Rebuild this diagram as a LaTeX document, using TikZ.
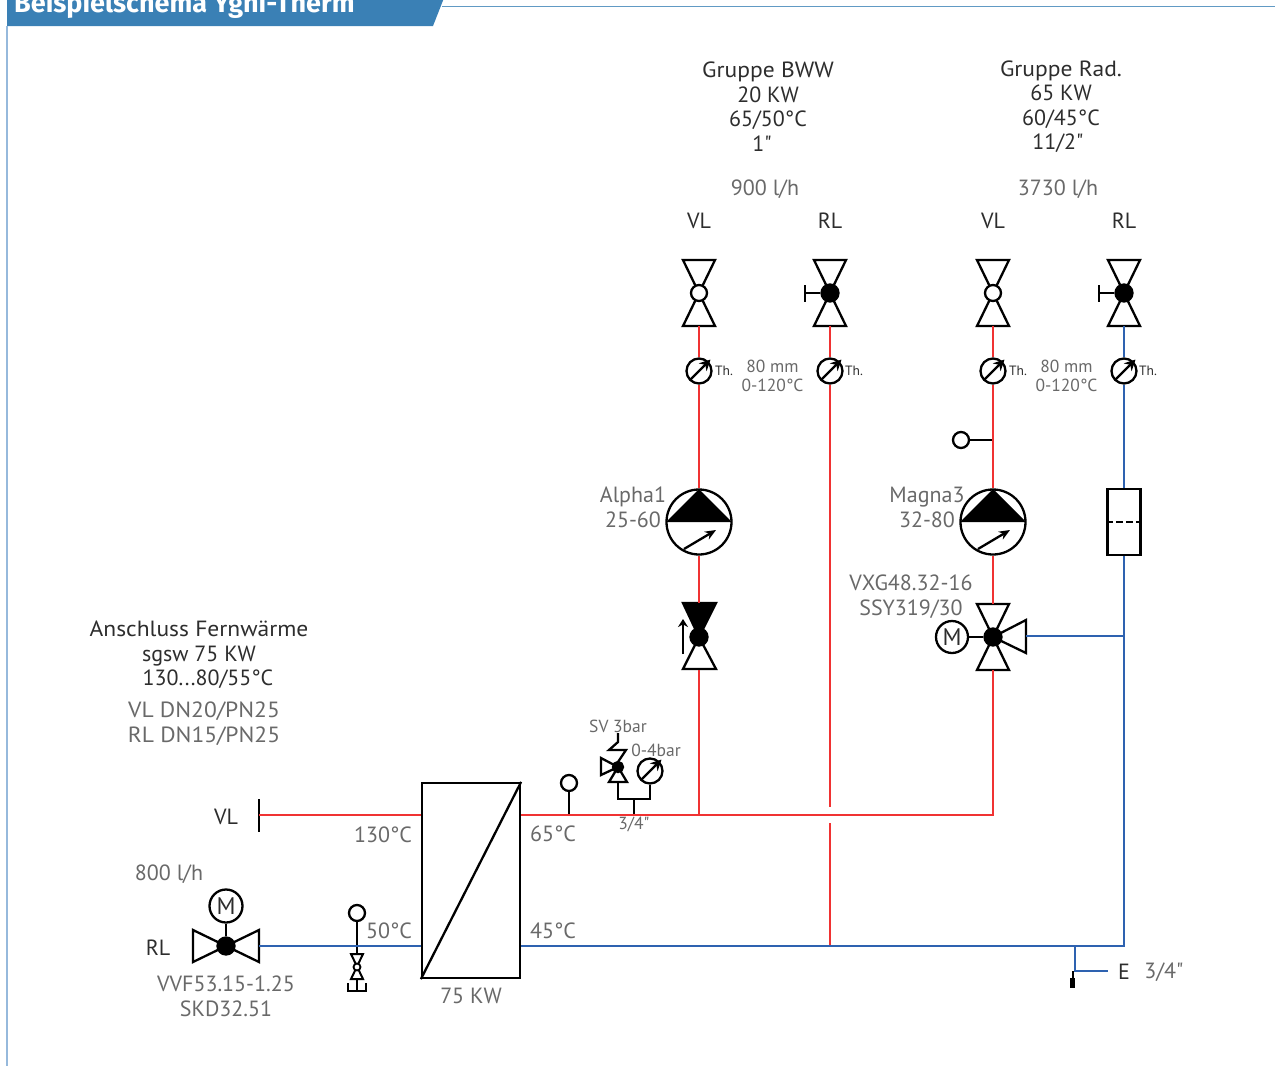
\documentclass[tikz,border=0pt]{standalone}
\usepackage{fontspec}
\newfontfamily\labelfont{PT Sans}
\newfontfamily\widefont[FakeStretch=1.07]{PT Sans}
\newfontfamily\headfont{Fira Sans}
\usetikzlibrary{arrows.meta, calc}
\definecolor{headcolor}{RGB}{58, 128, 181}
\definecolor{framecolor}{RGB}{150, 185, 220}
\definecolor{hotcolor}{RGB}{240, 50, 50}
\definecolor{coldcolor}{RGB}{46, 98, 176}
\definecolor{labelcolor}{RGB}{105, 105, 105}
\definecolor{namecolor}{RGB}{45, 45, 45}
\tikzstyle{symbol} = [draw=black, line width=2.3pt, line join=miter]
\tikzstyle{hotpipe} = [draw=hotcolor, line width=2.5pt]
\tikzstyle{coldpipe} = [draw=coldcolor, line width=2.8pt]
\tikzstyle{stem} = [draw=black, line width=2.3pt]
\tikzstyle{namelabel} = [text=namecolor, font=\labelfont\fontsize{22}{24.5}\selectfont, align=center, inner sep=0pt, yshift=-1pt]
\tikzstyle{graylabel} = [text=labelcolor, font=\labelfont\fontsize{22}{24.5}\selectfont, align=center, inner sep=0pt, yshift=-1pt]
\tikzstyle{smalllabel} = [text=labelcolor, font=\labelfont\fontsize{17.5}{18.5}\selectfont, align=center, inner sep=0pt]
\tikzstyle{thlabel} = [text=namecolor, font=\labelfont\fontsize{13.5}{14}\selectfont, inner sep=0pt]
\tikzstyle{dot} = [circle, draw=black, line width=2.3pt, inner sep=0pt]
\tikzstyle{motordot} = [dot, font=\labelfont\fontsize{24}{24}\selectfont, text=namecolor]
\tikzset{
  pics/valve/.style={code={
    \draw[symbol] (-16,-33) -- (16,-33) -- (-16,33) -- (16,33) -- cycle;
    \coordinate (-top) at (0,-33);
    \coordinate (-bot) at (0,33);
  }},
  pics/gauge/.style={code={
    \node[dot, fill=white, minimum size=25pt] (-c) at (0,0) {};
    \draw[line width=2.3pt, -{Stealth[length=11pt,width=11pt]}] (-9,9) -- (11.5,-11.5);
  }},
  pics/pump/.style={code={
    \node[dot, fill=white, minimum size=65pt] (-c) at (0,0) {};
    \fill[black] (-33,0) -- (0,-33) -- (33,0) -- cycle;
    \draw[line width=2.3pt, -{Stealth[length=11pt,width=9pt]}] (-15,27) -- (17,8);
  }},
  pics/sensor/.style={code={
    \node[dot, fill=white, minimum size=16pt] (-c) at (0,0) {};
  }}
}

\begin{document}
\begin{tikzpicture}[x=1pt, y=-1pt]
\useasboundingbox (0,0) rectangle (1275,1066);

% Title bar
\fill[headcolor] (7,-2) -- (444,-2) -- (433,26) -- (7,26) -- cycle;
\draw[framecolor, line width=1.5pt] (7,26) -- (7,1066);
\draw[headcolor!80, line width=1.2pt] (442,6.5) -- (1275,6.5);
\node[font=\headfont\bfseries\fontsize{27}{28}\selectfont, text=white, anchor=base west, inner sep=0pt] (title) at (14,12) {Beispielschema Yghi-Therm};

% Group labels
\node[namelabel] (groupBWW) at (768,105.5) {{\widefont Gruppe BWW}\\20 KW\hspace*{6pt}\\65/50°C\hspace*{6pt}\\1"\hspace*{12pt}};
\node[namelabel] (groupRad) at (1061,105.5) {{\widefont Gruppe Rad.}\\65 KW\hspace*{6pt}\\60/45°C\hspace*{6pt}\\11/2"\hspace*{6pt}};
\node[graylabel] (flowBWW) at (765,188) {900 l/h};
\node[graylabel] (flowRad) at (1058,188) {3730 l/h};
\node[namelabel] (vlBWW) at (699,220) {VL};
\node[namelabel] (rlBWW) at (830,220) {RL};
\node[namelabel] (vlRad) at (993,220) {VL};
\node[namelabel] (rlRad) at (1124,220) {RL};

% Valves top row
\pic (valveA) at (699,293) {valve};
\node[dot, fill=white, minimum size=16pt] (ballA) at (699,293) {};
\pic (valveB) at (830,293) {valve};
\node[dot, fill=black, minimum size=17pt] (ballB) at (830,293) {};
\coordinate (handleB) at (805,293);
\draw[stem] (ballB) -- (handleB);
\draw[stem] (805,285) -- (805,302);
\pic (valveC) at (993,293) {valve};
\node[dot, fill=white, minimum size=16pt] (ballC) at (993,293) {};
\pic (valveD) at (1124,293) {valve};
\node[dot, fill=black, minimum size=17pt] (ballD) at (1124,293) {};
\coordinate (handleD) at (1099,293);
\draw[stem] (ballD) -- (handleD);
\draw[stem] (1099,285) -- (1099,302);

% Thermometers
\pic (thermoA) at (699,371) {gauge};
\pic (thermoB) at (830,371) {gauge};
\pic (thermoC) at (993,371) {gauge};
\pic (thermoD) at (1124,371) {gauge};
\node[thlabel] (thA) at (724,371) {Th.};
\node[thlabel] (thB) at (854,371) {Th.};
\node[thlabel] (thC) at (1018,371) {Th.};
\node[thlabel] (thD) at (1148,371) {Th.};
\node[smalllabel] (scaleBWW) at (772.5,376) {80 mm\\0-120°C};
\node[smalllabel] (scaleRad) at (1066.5,376) {80 mm\\0-120°C};

% Pumps
\pic (pumpA) at (699,522) {pump};
\pic (pumpC) at (993,522) {pump};
\node[graylabel] (pumpLabelA) at (633,506.5) {Alpha1\\25-60};
\node[graylabel] (pumpLabelC) at (927,506.5) {Magna3\\32-80};

% Check valve
\draw[symbol, fill=black] (683,603) -- (716,603) -- (699,637) -- cycle;
\draw[symbol] (699,637) -- (683,669) -- (716,669) -- cycle;
\node[dot, fill=black, minimum size=17pt] (checkA) at (699,637) {};
\coordinate (checkTop) at (699,603);
\coordinate (checkBot) at (699,670);
\draw[line width=2.3pt, -{Stealth[length=8pt,width=10pt]}] (683,654) -- (683,619);

% Mixing valve
\pic (mixer) at (993,637) {valve};
\draw[symbol] (993,637) -- (1026,620) -- (1026,653) -- cycle;
\node[dot, fill=black, minimum size=17pt] (mixerBall) at (993,637) {};
\node[motordot, minimum size=32pt] (mixerM) at (952,637) {M};
\draw[stem] (mixerM) -- (mixerBall);
\coordinate (mixerOut) at (1026,636);
\node[graylabel] (mixerLabel) at (911,595.5) {VXG48.32-16\\SSY319/30};

% Sensor on flow line
\pic (sensorC) at (961,440) {sensor};
\coordinate (sensorTap) at (993,440);
\draw[stem] (sensorC-c) -- (sensorTap);

% Flow meter
\node[draw=black, line width=2.3pt, minimum width=33pt, minimum height=66pt, inner sep=0pt] (meter) at (1124,522) {};
\draw[line width=2.3pt, dash pattern=on 7pt off 3pt] (meter.west) -- (meter.east);

% Heat exchanger
\node[draw=black, line width=2.3pt, minimum width=98pt, minimum height=195pt, inner sep=0pt] (exchanger) at (471,880.5) {};
\draw[line width=2.3pt] (exchanger.south west) -- (exchanger.north east);
\node[graylabel] (exchangerLabel) at (471,995) {75 KW};

% Connection labels
\node[namelabel] (anschluss) at (199,654) {{\widefont Anschluss Fernwärme}\\sgsw 75 KW\\\hspace*{18pt}130...80/55°C};
\node[graylabel] (dnLabel) at (204,722.5) {{\widefont VL DN20/PN25}\\{\widefont RL DN15/PN25}};
\node[namelabel] (vlMain) at (226,816) {VL};
\node[namelabel] (rlMain) at (158,947) {RL};
\node[graylabel] (flowMain) at (169,873) {800 l/h};
\node[graylabel] (temp130) at (383,834) {130°C};
\node[graylabel] (temp65) at (553,833) {65°C};
\node[graylabel] (temp50) at (389,930) {50°C};
\node[graylabel] (temp45) at (553,930) {45°C};
\node[graylabel] (motorLabel) at (226,995.5) {VVF53.15-1.25\\SKD32.51};

% Inlet end
\coordinate (inletEnd) at (259,815);
\draw[stem] (259,799) -- (259,832);

% Motor valve
\draw[symbol] (226,946) -- (193,930) -- (193,962) -- cycle;
\draw[symbol] (226,946) -- (259,930) -- (259,962) -- cycle;
\node[dot, fill=black, minimum size=17pt] (motorBall) at (226,946) {};
\node[motordot, minimum size=33pt] (motorM) at (226,906) {M};
\draw[stem] (motorM) -- (motorBall);
\coordinate (motorOut) at (259,946);

% Drain valve on return
\pic (sensorR) at (357,913) {sensor};
\coordinate (drainTop) at (357,954);
\coordinate (drainBot) at (357,991);
\draw[symbol, line width=2pt] (351,954) -- (363,954) -- (351,979) -- (363,979) -- cycle;
\node[dot, fill=white, line width=1.8pt, minimum size=7pt] (drainBall) at (357,967) {};
\draw[stem] (sensorR-c) -- (drainTop);
\draw[stem] (357,979) -- (drainBot);
\draw[stem] (348,983) -- (348,991) -- (366,991) -- (366,983);

% Sensor on supply
\pic (sensorS) at (569,783) {sensor};
\coordinate (sensorSTap) at (569,815);
\draw[stem] (sensorS-c) -- (sensorSTap);

% Safety valve and pressure gauge
\draw[symbol] (618,767) -- (601,758) -- (601,775) -- cycle;
\draw[symbol] (618,767) -- (609,782) -- (627,782) -- cycle;
\node[dot, fill=black, minimum size=10pt] (safetyBall) at (618,767) {};
\draw[stem] (618,733) -- (618,742) -- (609,750) -- (626,750) -- (618,762);
\pic (gaugeP) at (650,771) {gauge};
\coordinate (manifold) at (634,799);
\coordinate (manifoldTap) at (634,815);
\draw[stem] (618,782) |- (manifold) -| (gaugeP-c.south);
\draw[stem] (manifold) -- (manifoldTap);
\node[smalllabel] (svLabel) at (618,726) {SV 3bar};
\node[smalllabel] (barLabel) at (656,750) {0-4bar};
\node[smalllabel] (sizeLabel) at (634,824) {3/4"};

% Red pipes
\coordinate (teeA) at (699,815);
\coordinate (teeC) at (993,815);
\coordinate (gapTop) at (830,807);
\coordinate (gapBot) at (830,823);
\coordinate (returnB) at (830,946);
\draw[hotpipe] (inletEnd) -- (exchanger.west |- inletEnd);
\draw[hotpipe] (exchanger.east |- inletEnd) -- (teeC) -- (mixer-bot);
\draw[hotpipe] (mixer-top) -- (pumpC-c.south);
\draw[hotpipe] (pumpC-c.north) -- (thermoC-c.south);
\draw[hotpipe] (thermoC-c.north) -- (valveC-bot);
\draw[hotpipe] (teeA) -- (checkBot);
\draw[hotpipe] (checkTop) -- (pumpA-c.south);
\draw[hotpipe] (pumpA-c.north) -- (thermoA-c.south);
\draw[hotpipe] (thermoA-c.north) -- (valveA-bot);
\draw[hotpipe] (valveB-bot) -- (thermoB-c.north);
\draw[hotpipe] (thermoB-c.south) -- (gapTop);
\draw[hotpipe] (gapBot) -- (returnB);

% Blue pipes
\coordinate (cornerD) at (1124,946);
\coordinate (teeMixer) at (1124,636);
\coordinate (teeDrain) at (1075,946);
\coordinate (drainCorner) at (1075,971);
\coordinate (drainEnd) at (1108,971);
\draw[coldpipe] (motorOut) -- (exchanger.west |- motorOut);
\draw[coldpipe] (exchanger.east |- motorOut) -- (cornerD) -- (meter.south);
\draw[coldpipe] (mixerOut) -- (teeMixer);
\draw[coldpipe] (meter.north) -- (thermoD-c.south);
\draw[coldpipe] (thermoD-c.north) -- (valveD-bot);
\draw[coldpipe] (teeDrain) -- (drainCorner) -- (drainEnd);
\draw[line width=1.5pt] (1073,971) -- (1073,987);
\fill[black] (1069.5,978) rectangle (1075,988);
\node[namelabel] (drainE) at (1124,971) {E};
\node[graylabel] (drainSize) at (1164,971) {3/4"};
\end{tikzpicture}
\end{document}
